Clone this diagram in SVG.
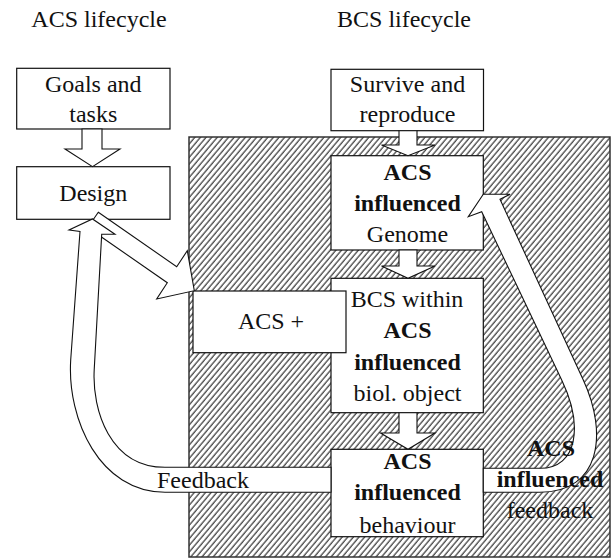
<svg xmlns="http://www.w3.org/2000/svg" width="616" height="558" viewBox="0 0 616 558" font-family="'Liberation Serif', 'DejaVu Serif', serif">
<style>
text{font-family:'Liberation Serif','DejaVu Serif',serif;font-size:24px;fill:#111;text-anchor:middle}
.b{font-weight:bold}
.box{fill:#fff;stroke:#111;stroke-width:1.2}
.arrow{fill:#fff;stroke:#111;stroke-width:1.1;stroke-linejoin:miter}
</style>
<defs>
<pattern id="hatch" patternUnits="userSpaceOnUse" width="4.3" height="10" patternTransform="rotate(40)">
<rect width="4.3" height="10" fill="#fff"/>
<line x1="1" y1="0" x2="1" y2="10" stroke="#222" stroke-width="1.1"/>
</pattern>
</defs>
<rect width="616" height="558" fill="#fff"/>
<text x="99" y="26.5">ACS lifecycle</text>
<text x="404" y="26.5">BCS lifecycle</text>
<g id="bcs-region">
<rect x="189" y="137" width="421" height="420" fill="url(#hatch)" stroke="#333" stroke-width="1.5"/>
</g>
<g id="goals">
<rect class="box" x="16.7" y="68.3" width="153.3" height="60.7"/>
<text x="93.3" y="91.5">Goals and</text>
<text x="93.3" y="122">tasks</text>
</g>
<g id="design">
<rect class="box" x="16.7" y="166.7" width="153.3" height="52.6"/>
<text x="93.3" y="201">Design</text>
</g>
<g id="survive">
<rect class="box" x="331" y="69.3" width="152.5" height="61.4"/>
<text x="407.5" y="92">Survive and</text>
<text x="407.5" y="122">reproduce</text>
</g>
<g id="genome">
<rect class="box" x="331" y="155.7" width="152.3" height="94.3"/>
<text class="b" x="407.5" y="179.5">ACS</text>
<text class="b" x="407.5" y="210.5">influenced</text>
<text x="407.5" y="241.5">Genome</text>
</g>
<g id="bcs-object">
<rect class="box" x="331" y="278.3" width="152.3" height="134.4"/>
<text x="407" y="307">BCS within</text>
<text class="b" x="407.5" y="338">ACS</text>
<text class="b" x="407.5" y="369.5">influenced</text>
<text x="407.5" y="401">biol. object</text>
</g>
<g id="acs-plus">
<rect class="box" x="193" y="291" width="153" height="61.7"/>
<text x="271" y="329.3">ACS +</text>
</g>
<g id="behaviour">
<rect class="box" x="331" y="449.3" width="152.3" height="87.4"/>
<text class="b" x="407.5" y="468.5">ACS</text>
<text class="b" x="407.5" y="500.3">influenced</text>
<text x="407.5" y="532.8">behaviour</text>
</g>
<g id="connectors">
<polygon class="arrow" points="82,129 102,129 102,149 120,149 92.5,166.7 65,149 82,149"/>
<polygon class="arrow" points="399,130.7 417,130.7 417,145 435,145 408,155.7 381.5,145 399,145"/>
<polygon class="arrow" points="399,250 417,250 417,266 435,266 408,278.3 381.5,266 399,266"/>
<polygon class="arrow" points="399,412.7 417,412.7 417,433 435,433 408,449.3 380.5,433 399,433"/>
<polygon class="arrow" points="98.3,212.3 176.7,266.7 187.3,250.7 194.3,290.7 156.7,299 167.3,282.7 87.8,227.5"/>
<path class="arrow" d="M331,467.3 L165,467.3 C110,467.3 92,410 94.2,370 L101.7,234.3 L115,234.3 L92.5,219 L69,230 L80,231.5 L70.7,360 C67,420 100,492.3 165,492.3 L331,492.3 Z"/>
<path class="arrow" d="M483.3,468.3 L540,468.3 C578,468.3 583.2,425 561.7,380 L481.7,211.7 L468.3,216.7 L483.3,194.3 L510,194.3 L500,199.3 L583.3,380 C608.4,434.5 600,492.3 540,492.3 L483.3,492.3 Z"/>
<text x="203" y="488.3">Feedback</text>
<text class="b" x="551" y="455.5">ACS</text>
<text class="b" x="550" y="486.7">influenced</text>
<text x="550" y="517.5">feedback</text>
</g>
</svg>
